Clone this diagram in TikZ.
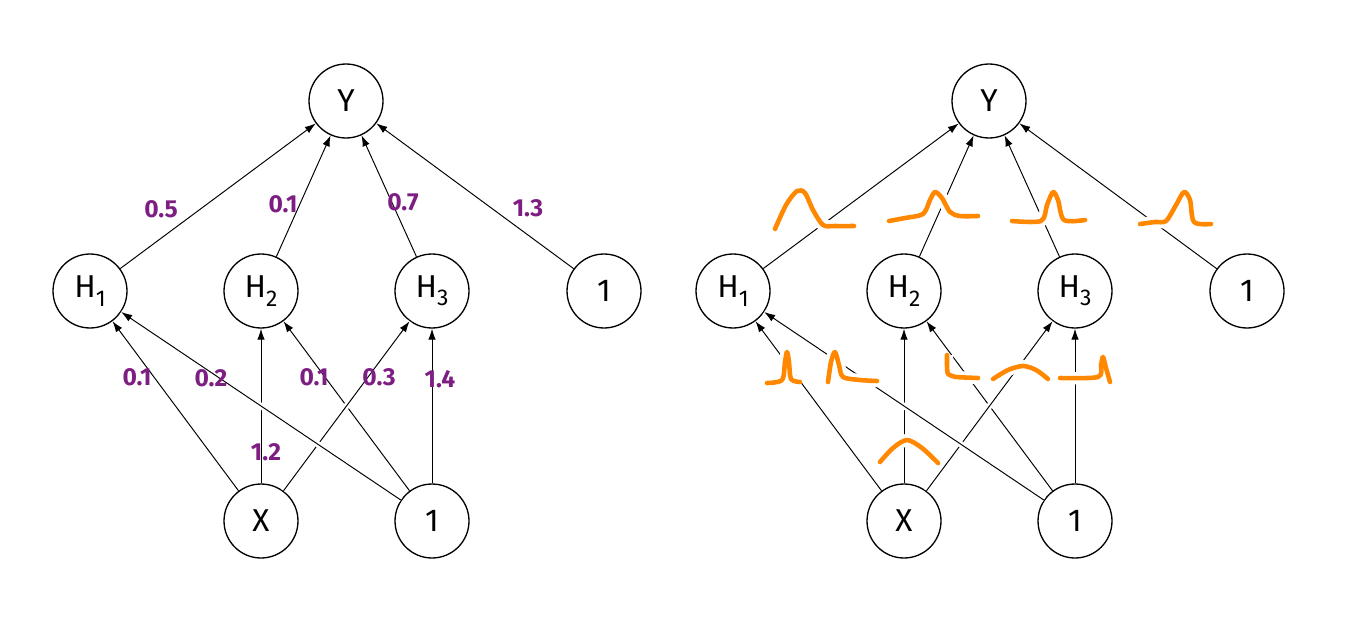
\documentclass[tikz,border=0pt]{standalone}
\usepackage{fontspec}
\setmainfont{Fira Sans}
\usetikzlibrary{arrows.meta}

\definecolor{weightpurple}{RGB}{125,30,130}
\definecolor{bumporange}{RGB}{255,136,0}

\begin{document}
\begin{tikzpicture}[x=0.02cm, y=-0.02cm]
  \def\unitsize{1.48cm}
  \def\netshift{643}
  \tikzstyle{unit} = [circle, draw, fill=white, line width=0.75pt, inner sep = 0pt, minimum size = \unitsize, font=\fontsize{18}{20}\selectfont]
  \tikzstyle{edge} = [line width=0.55pt, -{Latex[length=2.2mm, width=1.5mm]}]
  \tikzstyle{over} = [preaction={draw=white, line width=3.5pt, -}]
  \tikzstyle{weight} = [text=weightpurple, font=\fontsize{14}{15}\selectfont\bfseries, inner sep=0pt]
  \tikzstyle{bump} = [draw=bumporange, line width=2.6pt, line cap=round, line join=round, preaction={draw=white, line width=7pt}]
  \def\sub#1{\raisebox{-0.5ex}{\fontsize{13}{13}\selectfont #1}}

  \useasboundingbox (0,0) rectangle (1348,622);

  % one network: units and connections
  \def\network{
    \node[unit] (Y) at (346, 101) {Y};
    \node[unit] (H1) at (90, 291) {H\sub{1}};
    \node[unit] (H2) at (261, 291) {H\sub{2}};
    \node[unit] (H3) at (432, 291) {H\sub{3}};
    \node[unit] (b1) at (604, 291) {1};
    \node[unit] (X) at (261, 521) {X};
    \node[unit] (b2) at (432, 521) {1};

    \draw[edge] (H1) -- (Y);
    \draw[edge] (H2) -- (Y);
    \draw[edge] (H3) -- (Y);
    \draw[edge] (b1) -- (Y);
    \draw[edge] (X) -- (H1);
    \draw[edge] (X) -- (H2);
    \draw[edge] (b2) -- (H2);
    \draw[edge] (b2) -- (H3);
    \draw[edge, over] (X) -- (H3);
    \draw[edge, over] (b2) -- (H1);
  }

  \begin{scope}[shift={(0,0)}]
    \network
    \node[weight] (w1) at (161, 209) {0.5};
    \node[weight] (w2) at (283, 204) {0.1};
    \node[weight] (w3) at (403, 202) {0.7};
    \node[weight] (w4) at (528, 208) {1.3};
    \node[weight] (w5) at (137, 377) {0.1};
    \node[weight] (w6) at (211, 378) {0.2};
    \node[weight] (w7) at (314, 377) {0.1};
    \node[weight] (w8) at (379, 377) {0.3};
    \node[weight] (w9) at (440, 379) {1.4};
    \node[weight] (w10) at (266, 452) {1.2};
  \end{scope}

  \begin{scope}[shift={(\netshift,0)}]
    \network
  \end{scope}

  % hand drawn weight distributions
  \draw[bump] plot[smooth, tension=0.5] coordinates {(775,229) (786,205) (797,191) (805,193) (813,210) (823,225) (835,226) (854,226)};
  \draw[bump] plot[smooth, tension=0.5] coordinates {(889,221) (905,218) (923,214) (930,200) (935,192) (942,198) (950,212) (960,216) (978,216)};
  \draw[bump] plot[smooth, tension=0.5] coordinates {(1012,221) (1041,221) (1047,205) (1053,192) (1058,200) (1064,220) (1085,220)};
  \draw[bump] plot[smooth, tension=0.5] coordinates {(1140,224) (1155,222) (1166,221) (1176,205) (1184,192) (1190,200) (1194,222) (1211,224)};
  \draw[bump] plot[smooth, tension=0.5] coordinates {(767,383) (782,380) (785,362) (787,352) (789,362) (791,379) (800,382)};
  \draw[bump] plot[smooth, tension=0.5] coordinates {(828,382) (831,362) (835,352) (839,365) (843,377) (860,380) (877,381)};
  \draw[bump] plot[smooth, tension=0.3] coordinates {(947,355) (947,366) (948,374) (956,377) (978,378)};
  \draw[bump] plot[smooth, tension=0.5] coordinates {(993,379) (1008,370) (1023,366) (1036,370) (1048,379)};
  \draw[bump] plot[smooth, tension=0.5] coordinates {(1060,378) (1098,377) (1101,365) (1103,357) (1106,368) (1110,382)};
  \draw[bump] plot[smooth, tension=0.5] coordinates {(880,462) (893,448) (907,440) (922,448) (938,463)};

\end{tikzpicture}
\end{document}
